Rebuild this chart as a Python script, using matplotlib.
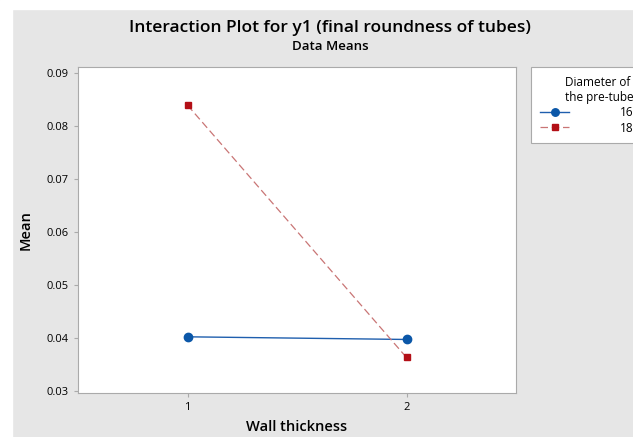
import matplotlib.pyplot as plt
from matplotlib.patches import Rectangle

plt.rcParams['font.family'] = ['Open Sans', 'DejaVu Sans']

wall = [1, 2]
d16 = [0.0402, 0.0397]
d18 = [0.0839, 0.0363]
series_labels = ['16', '18']

fig = plt.figure(figsize=(6.33, 4.37), dpi=100, facecolor='#e6e6e6')

# white margins at top and left of the screenshot
fig.patches.append(Rectangle((0, 1 - 9/437), 1, 9/437, transform=fig.transFigure,
                             color='white', zorder=0))
fig.patches.append(Rectangle((0, 0), 12/633, 1, transform=fig.transFigure,
                             color='white', zorder=0))

ax = fig.add_axes([78/633, 1 - 393/437, (516-78)/633, (393-67)/437])
ax.set_facecolor('white')

ax.plot(wall, d16, color='#1f5fae', lw=1, marker='o', ms=6,
        mfc='#0b57a8', mec='#0b57a8', label=series_labels[0])
ax.plot(wall, d18, color='#c97575', lw=0.9, ls=(0, (6, 3)), marker='s', ms=5,
        mfc='#b30f16', mec='#b30f16', label=series_labels[1])

ax.set_xlim(0.5, 2.5)
ax.set_ylim(0.0296, 0.0911)
ax.set_xticks([1, 2])
ax.set_yticks([0.03, 0.04, 0.05, 0.06, 0.07, 0.08, 0.09])
ax.set_yticklabels(['0.03', '0.04', '0.05', '0.06', '0.07', '0.08', '0.09'])
ax.tick_params(labelsize=8, color='#aaaaaa', length=3)
for s in ax.spines.values():
    s.set_color('#aaaaaa')

ax.set_xlabel('Wall thickness', fontsize=10.5, labelpad=5, fontweight='semibold')
ax.set_ylabel('Mean', fontsize=10.5, labelpad=10, fontweight='semibold')

fig.text(330/633, 1 - 28/437, 'Interaction Plot for y1 (final roundness of tubes)',
         ha='center', va='center', fontsize=12.5, fontweight='semibold')
fig.text(330/633, 1 - 47/437, 'Data Means', ha='center', va='center',
         fontsize=9.5, fontweight='semibold')

leg = ax.legend(title='Diameter of\nthe pre-tube', loc='upper left',
                bbox_to_anchor=(531/633, 1 - 67/437), bbox_transform=fig.transFigure,
                fontsize=8.5, title_fontsize=8.5, frameon=True, fancybox=False,
                framealpha=1, facecolor='white',
                alignment='right', borderpad=0.75, borderaxespad=0, markerscale=0.9,
                handlelength=2.5, handletextpad=4.3, labelspacing=0.2)
leg.get_frame().set_edgecolor('#aaaaaa')
leg.get_frame().set_linewidth(0.8)

plt.savefig('out.png', dpi=100, facecolor=fig.get_facecolor())
